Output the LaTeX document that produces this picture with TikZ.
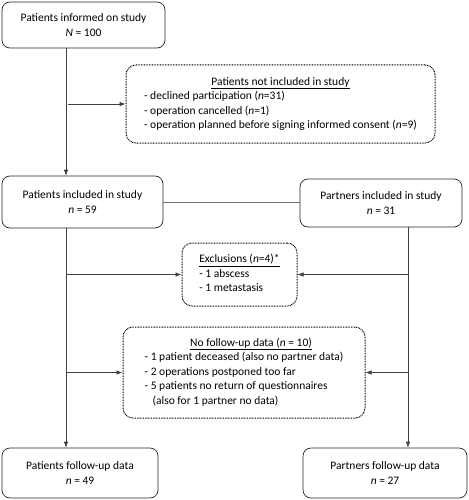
\documentclass[tikz,border=0pt]{standalone}
\usepackage{fontspec}
\setmainfont{Carlito}
\usetikzlibrary{arrows.meta}
\newcommand{\dlist}[2]{\begin{tabular}{@{}l@{}}\multicolumn{1}{@{}c@{}}{#1}\\#2\end{tabular}}
\begin{document}
\begin{tikzpicture}[x=1pt,y=-1pt,
  txt/.style={font=\fontsize{11.5}{14.5}\selectfont},
  box/.style={txt, draw=black!85, line width=0.7pt, rounded corners=8pt, inner sep=0pt, align=center},
  dbox/.style={txt, draw=black, line width=1pt, dash pattern=on 0.8pt off 0.8pt, rounded corners=10pt, inner sep=0pt},
  conn/.style={draw=black!75, line width=0.7pt},
  arr/.style={conn, -{Latex[length=6pt,width=4.5pt]}}
]
\useasboundingbox (0,0) rectangle (468,500);
\coordinate (lx) at (66,0);
\coordinate (rx) at (408,0);

\node[box, minimum width=163pt, minimum height=46pt] (p1) at (83.5,25) {Patients informed on study\\\emph{N} = 100};

\node[dbox, minimum width=309pt, minimum height=78pt] (ni) at (280.5,104)
 {\dlist{\underline{Patients not included in study}}{%
  - declined participation (\emph{n}=31)\\
  - operation cancelled (\emph{n}=1)\\
  - operation planned before signing informed consent (\emph{n}=9)}};

\node[box, minimum width=161pt, minimum height=52pt] (p2) at (82.5,202) {Patients included in study\\\emph{n} = 59};
\node[box, minimum width=162pt, minimum height=48pt] (pa) at (381,203) {Partners included in study\\\emph{n} = 31};

\node[dbox, minimum width=115pt, minimum height=63pt] (ex) at (239.5,274.5)
 {\dlist{\underline{Exclusions (\emph{n}=4)*}}{%
  - 1 abscess\\
  - 1 metastasis}};

\node[dbox, minimum width=242pt, minimum height=91pt] (nf) at (244,372.5)
 {\dlist{\hspace*{14pt}\underline{No follow-up data (\emph{n} = 10)}}{%
  - 1 patient deceased (also no partner data)\\
  - 2 operations postponed too far\\
  - 5 patients no return of questionnaires\\
  \hspace*{8pt}(also for 1 partner no data)}};

\node[box, minimum width=156pt, minimum height=50pt] (pf) at (80,473) {Patients follow-up data\\\emph{n} = 49};
\node[box, minimum width=164pt, minimum height=50pt] (rf) at (385,473) {Partners follow-up data\\\emph{n} = 27};

\draw[arr] (p1.south -| lx) -- (p2.north -| lx);
\draw[arr] ([xshift=2pt]lx |- ni.west) -- (ni.west);
\draw[conn, draw=black!55, line width=1pt] (p2.east) -- (p2.east -| pa.west);
\draw[arr] (p2.south -| lx) -- (pf.north -| lx);
\draw[arr] (lx |- ex.west) -- (ex.west);
\draw[arr] (lx |- nf.west) -- (nf.west);
\draw[arr] (pa.south -| rx) -- (rf.north -| rx);
\draw[arr] (rx |- ex.east) -- (ex.east);
\draw[arr] (rx |- nf.east) -- (nf.east);
\end{tikzpicture}
\end{document}
